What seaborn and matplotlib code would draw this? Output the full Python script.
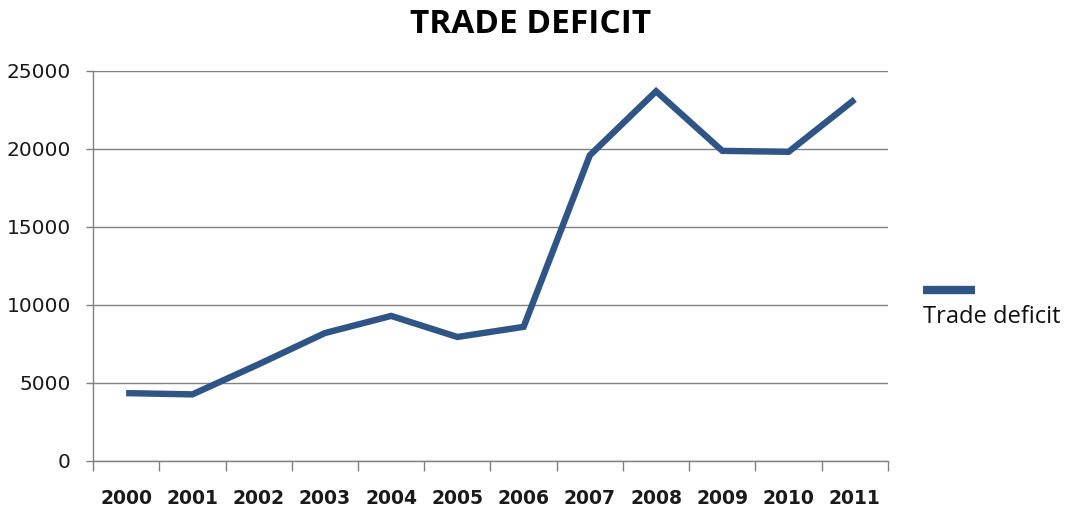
import matplotlib
matplotlib.use("Agg")
import matplotlib.pyplot as plt
from matplotlib.lines import Line2D
from matplotlib.ticker import FixedLocator, NullFormatter
import pandas as pd
import seaborn as sns

years = ["2000", "2001", "2002", "2003", "2004", "2005",
         "2006", "2007", "2008", "2009", "2010", "2011"]
deficit = [4350, 4270, 6200, 8200, 9300, 7950,
           8600, 19600, 23700, 19880, 19820, 23180]
y_ticks = [0, 5000, 10000, 15000, 20000, 25000]
title = "TRADE DEFICIT"
series_name = "Trade deficit"

line_color = "#2F5486"
grid_color = "#808080"

sns.set_theme(style="white")
plt.rcParams['font.family'] = ['DejaVu Sans']

df = pd.DataFrame({"year": years, "value": deficit})
df["pos"] = range(len(df))

fig = plt.figure(figsize=(10.67, 5.13), dpi=100)
ax = fig.add_axes([0.0872, 0.1014, 0.8322 - 0.0872, 0.8616 - 0.1014])

sns.lineplot(data=df, x="pos", y="value", ax=ax, color=line_color,
             linewidth=4.6, solid_joinstyle="miter", solid_capstyle="butt",
             legend=False)

ax.set_xlim(-0.5, len(years) - 0.5)
ax.set_ylim(0, 25000)
ax.set_xlabel("")
ax.set_ylabel("")

# y axis
ax.set_yticks(y_ticks)
ax.set_yticklabels([str(v) for v in y_ticks], fontsize=14.5, color="#1a1a1a")
ax.yaxis.grid(True, color=grid_color, linewidth=1.0)
ax.tick_params(axis="y", length=5, width=1, color=grid_color, pad=11, left=True)

# x axis: ticks at category boundaries, labels at centers
ax.xaxis.set_major_locator(FixedLocator([i - 0.5 for i in range(len(years) + 1)]))
ax.xaxis.set_major_formatter(NullFormatter())
ax.xaxis.set_minor_locator(FixedLocator(list(df["pos"])))
ax.set_xticklabels(years, minor=True, fontsize=13.5, fontweight="bold", color="#1a1a1a")
ax.tick_params(axis="x", which="major", length=7, width=1, color=grid_color, bottom=True)
ax.tick_params(axis="x", which="minor", length=0, pad=20)

for side in ["top", "right"]:
    ax.spines[side].set_visible(False)
for side in ["left", "bottom"]:
    ax.spines[side].set_color(grid_color)
    ax.spines[side].set_linewidth(1.0)

fig.text(0.497, 0.953, title, ha="center", va="center", color="black",
         fontsize=24, fontweight="bold", family=["Open Sans", "DejaVu Sans"])

# legend: swatch above label
fig.lines.append(Line2D([0.865, 0.914], [0.434, 0.434], transform=fig.transFigure,
                        color=line_color, linewidth=6, solid_capstyle="butt"))
fig.text(0.865, 0.382, series_name, ha="left", va="center", fontsize=17,
         family=["Open Sans", "DejaVu Sans"], color="#111111")

fig.savefig("out.png", dpi=100)
